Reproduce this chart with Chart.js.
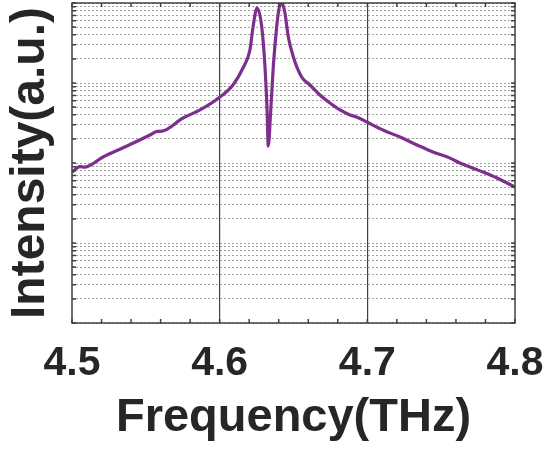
<!DOCTYPE html>
<html><head><meta charset="utf-8">
<script src="https://cdn.jsdelivr.net/npm/chart.js@4/dist/chart.umd.min.js"></script>
<style>html,body{margin:0;padding:0;background:#fff}</style>
</head><body>
<canvas id="c" width="548" height="450"></canvas>
<script>
// ---- data ----
const freqTHz = [4.500,4.5054,4.5088,4.5210,4.5372,4.5528,4.5576,4.5609,4.5752,4.5867,4.6002,4.6090,4.6158,4.6205,4.6226,4.6253,4.6285,4.6307,4.6321,4.6329,4.6346,4.6363,4.6386,4.6404,4.6422,4.6442,4.6465,4.6499,4.6555,4.6612,4.6679,4.6747,4.6815,4.6883,4.6916,4.6950,4.6998,4.7106,4.7221,4.7336,4.7445,4.7560,4.7627,4.7695,4.7783,4.7878,4.8000];
const intensity = [77,90,89,119,163,224,248,250,365,460,668,944,1540,2584,5012,8660,5012,1585,460,163,460,1585,5012,8913,10000,7499,3758,2113,1189,944,708,562,460,398,381,360,325,258,211,168,137,115,100,89,77,65,50];
const xTickLabels = ['4.5','4.6','4.7','4.8'];
const xMajorLines = [4.6, 4.7];
const yDecades = [1, 10, 100, 1000];
const yMultipliers = [1,2,3,4,5,6,7,8,9];
const yMax = 10000;

const yGridValues = [];
yDecades.forEach(d => yMultipliers.forEach(m => yGridValues.push(d*m)));
yGridValues.push(yMax);

const points = freqTHz.map((f,i) => ({x:f, y:intensity[i]}));
const FONT = "'Liberation Sans', Arial, Helvetica, sans-serif";
const TXT = '#262626';
const AX = '#404040';

const frame = {
  id:'frame',
  afterDraw(chart){
    const {ctx, chartArea:a, scales:{x,y}} = chart;
    ctx.save();
    ctx.strokeStyle = AX;
    ctx.lineWidth = 1.5;
    ctx.beginPath();
    x.ticks.forEach(t => {
      const px = x.getPixelForValue(t.value);
      ctx.moveTo(px, a.bottom); ctx.lineTo(px, a.bottom-4);
      ctx.moveTo(px, a.top); ctx.lineTo(px, a.top+4);
    });
    y.ticks.forEach(t => {
      const py = y.getPixelForValue(t.value);
      ctx.moveTo(a.left, py); ctx.lineTo(a.left+4, py);
      ctx.moveTo(a.right, py); ctx.lineTo(a.right-4, py);
    });
    ctx.stroke();
    ctx.strokeRect(a.left, a.top, a.right-a.left, a.bottom-a.top);
    ctx.restore();
  }
};

new Chart(document.getElementById('c'), {
  type:'line',
  data:{datasets:[{
    data:points,
    borderColor:'#7e2f8e',
    borderWidth:3.2,
    pointRadius:0,
    fill:false,
    cubicInterpolationMode:'monotone'
  }]},
  options:{
    responsive:false,
    animation:false,
    devicePixelRatio:1,
    layout:{padding:{top:3,right:33,left:0,bottom:0}},
    plugins:{legend:{display:false},tooltip:{enabled:false}},
    scales:{
      x:{
        type:'linear', min:4.5, max:4.8,
        afterFit(s){ s.height = 127; s.paddingLeft = 0; s.paddingRight = 0; },
        ticks:{
          stepSize:0.02, autoSkip:false, maxRotation:0, minRotation:0,
          padding:16, color:TXT,
          font:{family:FONT, size:41, weight:'bold'},
          callback(v){
            const k = Math.round(v*10);
            if (Math.abs(v*10-k) < 1e-6) { const s=(k/10).toFixed(1); return xTickLabels.includes(s)?s:''; }
            return '';
          }
        },
        grid:{
          drawTicks:false, lineWidth:1.2,
          color(c){ const v=c.tick&&c.tick.value; return xMajorLines.some(m=>Math.abs(m-v)<1e-6)?AX:'rgba(0,0,0,0)'; }
        },
        border:{display:false},
        title:{display:true, text:'Frequency(THz)', color:TXT,
          font:{family:FONT, size:47, weight:'bold', lineHeight:1},
          padding:{top:0,bottom:8}}
      },
      y:{
        type:'logarithmic', min:1, max:yMax,
        afterBuildTicks(s){ s.ticks = yGridValues.map(v=>({value:v})); },
        afterFit(s){ s.width = 72; s.paddingTop = 0; s.paddingBottom = 0; },
        ticks:{display:false, autoSkip:false},
        grid:{drawTicks:false, color:'#a0a0a0', lineWidth:1},
        border:{display:false, dash:[2,2]},
        title:{display:true, text:'Intensity(a.u.)', color:TXT,
          font:{family:FONT, size:48, weight:'bold', lineHeight:1},
          padding:{top:7,bottom:0}}
      }
    }
  },
  plugins:[frame]
});
</script>
</body></html>
